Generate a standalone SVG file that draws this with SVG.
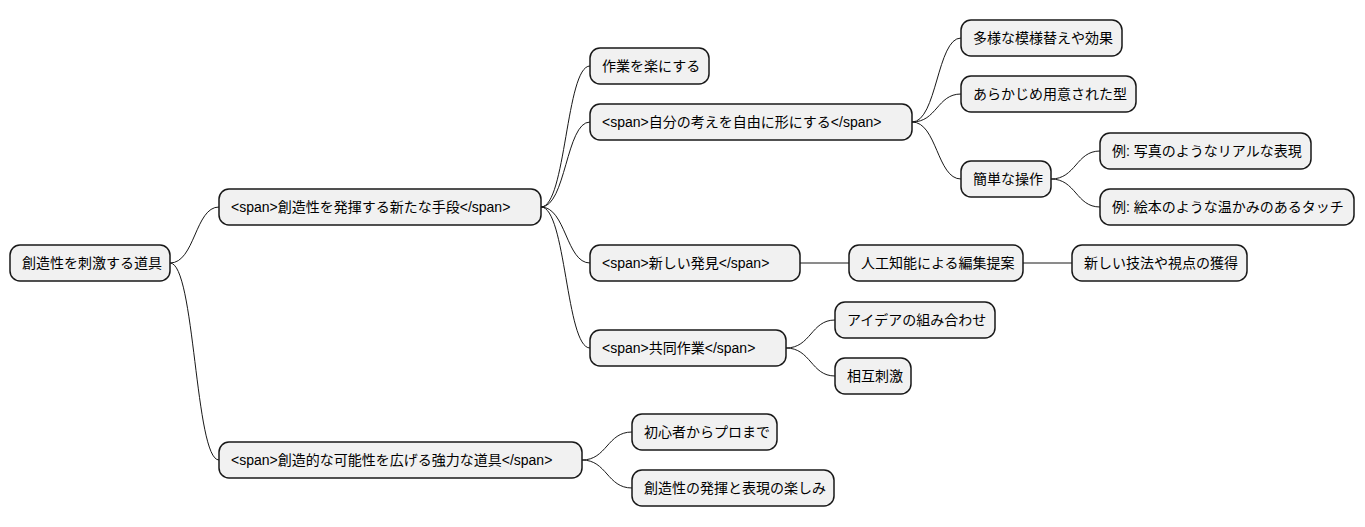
<svg xmlns="http://www.w3.org/2000/svg" width="1365" height="527" viewBox="0 0 1365 527">
<style>
.n rect{fill:#F1F1F1;stroke:#181818;stroke-width:1.5}
.n text{font-family:"Liberation Sans","Noto Sans CJK JP",sans-serif;font-size:14px;fill:#000}
.c path{fill:none;stroke:#181818;stroke-width:1}
</style>
<rect width="1365" height="527" fill="#fff"/>
<g class="c">
<path d="M170 263 C195 263 195 207 219 207"/>
<path d="M170 263 C195 263 195 460 219 460"/>
<path d="M541 207 C566 207 566 66 590 66"/>
<path d="M541 207 C566 207 566 122 590 122"/>
<path d="M541 207 C566 207 566 263 590 263"/>
<path d="M541 207 C566 207 566 348 590 348"/>
<path d="M912 122 C937 122 937 38 961 38"/>
<path d="M912 122 C937 122 937 94 961 94"/>
<path d="M912 122 C937 122 937 179 961 179"/>
<path d="M1051 179 C1076 179 1076 151 1100 151"/>
<path d="M1051 179 C1076 179 1076 207 1100 207"/>
<path d="M800 263 L849 263"/>
<path d="M1023 263 L1072 263"/>
<path d="M786 348 C811 348 811 320 835 320"/>
<path d="M786 348 C811 348 811 376 835 376"/>
<path d="M582 460 C607 460 607 432 632 432"/>
<path d="M582 460 C607 460 607 488 632 488"/>
</g>
<g id="root" class="n"><rect x="10" y="245" width="160" height="36" rx="10"/><text x="22" y="268">創造性を刺激する道具</text></g>
<g id="a" class="n"><rect x="219" y="189" width="322" height="36" rx="10"/><text x="231" y="212">&lt;span&gt;創造性を発揮する新たな手段&lt;/span&gt;</text></g>
<g id="b" class="n"><rect x="219" y="442" width="363" height="36" rx="10"/><text x="231" y="465">&lt;span&gt;創造的な可能性を広げる強力な道具&lt;/span&gt;</text></g>
<g id="a1" class="n"><rect x="590" y="48" width="119" height="36" rx="10"/><text x="602" y="71">作業を楽にする</text></g>
<g id="a2" class="n"><rect x="590" y="104" width="322" height="36" rx="10"/><text x="602" y="127">&lt;span&gt;自分の考えを自由に形にする&lt;/span&gt;</text></g>
<g id="a3" class="n"><rect x="590" y="245" width="210" height="36" rx="10"/><text x="602" y="268">&lt;span&gt;新しい発見&lt;/span&gt;</text></g>
<g id="a4" class="n"><rect x="590" y="330" width="196" height="36" rx="10"/><text x="602" y="353">&lt;span&gt;共同作業&lt;/span&gt;</text></g>
<g id="a2a" class="n"><rect x="961" y="20" width="161" height="36" rx="10"/><text x="973" y="43">多様な模様替えや効果</text></g>
<g id="a2b" class="n"><rect x="961" y="76" width="175" height="36" rx="10"/><text x="973" y="99">あらかじめ用意された型</text></g>
<g id="a2c" class="n"><rect x="961" y="161" width="90" height="36" rx="10"/><text x="973" y="184">簡単な操作</text></g>
<g id="a2c1" class="n"><rect x="1100" y="133" width="211" height="36" rx="10"/><text x="1112" y="156">例: 写真のようなリアルな表現</text></g>
<g id="a2c2" class="n"><rect x="1100" y="189" width="254" height="36" rx="10"/><text x="1112" y="212">例: 絵本のような温かみのあるタッチ</text></g>
<g id="a3a" class="n"><rect x="849" y="245" width="174" height="36" rx="10"/><text x="861" y="268">人工知能による編集提案</text></g>
<g id="a3a1" class="n"><rect x="1072" y="245" width="175" height="36" rx="10"/><text x="1084" y="268">新しい技法や視点の獲得</text></g>
<g id="a4a" class="n"><rect x="835" y="302" width="160" height="36" rx="10"/><text x="847" y="325">アイデアの組み合わせ</text></g>
<g id="a4b" class="n"><rect x="835" y="358" width="76" height="36" rx="10"/><text x="847" y="381">相互刺激</text></g>
<g id="b1" class="n"><rect x="632" y="414" width="145" height="36" rx="10"/><text x="644" y="437">初心者からプロまで</text></g>
<g id="b2" class="n"><rect x="632" y="470" width="202" height="36" rx="10"/><text x="644" y="493">創造性の発揮と表現の楽しみ</text></g>
</svg>
